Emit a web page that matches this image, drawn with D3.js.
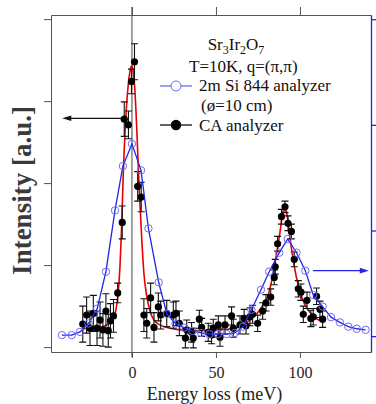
<!DOCTYPE html>
<html>
<head>
<meta charset="utf-8">
<script src="https://cdn.jsdelivr.net/npm/d3@7"></script>
<style>
  body { margin: 0; background: #fff; }
  text { font-family: "Liberation Serif", "Times New Roman", serif; }
</style>
</head>
<body>
<div id="chart"></div>
<script>
// 2m Si 844 analyzer (right axis)
const siE = [-41.7, -35.9, -31.0, -25.9, -20.7, -15.5, -10.1, -5.4, 0, 5.4, 9.8, 15.9,
  20.8, 25.9, 31.0, 36.0, 41.1, 46.1, 51.2, 56.3, 61.3, 66.1, 71.1, 76.8, 81.7, 87.7,
  92.7, 98.0, 103.2, 107.9, 113.5, 118.5, 123.8, 128.8, 133.8, 139.1];
const siI = [0.01, 0.01, 0.04, 0.12, 0.26, 0.61, 1.19, 1.61, 1.82, 1.57, 1.02, 0.51,
  0.21, 0.12, 0.08, 0.05, 0.03, 0.02, 0.02, 0.02, 0.03, 0.09, 0.25, 0.44, 0.61, 0.79,
  0.92, 0.79, 0.62, 0.39, 0.28, 0.18, 0.13, 0.09, 0.07, 0.06];

// CA analyzer (left axis)
const caE = [-29.3, -27.0, -25.0, -23.0, -20.8, -19.0, -17.3, -15.5, -14.1, -12.8, -11.0, -8.5,
  -5.8, -4.6, -2.1, -0.3, 1.5, 3.4, 5.5, 7.1, 8.8, 11.1, 13.1, 15.7, 17.1, 20.7, 24.6, 26.2,
  28.2, 31.8, 32.6, 35.5, 36.5, 40.1, 41.5, 45.4, 47.4, 48.4, 51.4, 52.4, 55.4, 59.3, 60.3,
  64.3, 66.8, 67.9, 70.2, 71.8, 74.8, 77.8, 79.8, 82.6, 84.7, 85.3, 86.7, 89.0, 91.1, 92.9,
  94.9, 96.6, 99.0, 100.6, 102.0, 104.2, 106.5, 107.9, 109.9, 111.9, 113.5];
const caI = [0.28, 0.39, 0.23, 0.41, 0.23, 0.33, 0.21, 0.44, 0.20, 0.32, 0.38, 0.66,
  1.52, 2.78, 2.71, 3.24, 3.48, 1.96, 1.83, 0.39, 0.29, 0.60, 0.24, 0.49, 0.39, 0.41, 0.39, 0.41,
  0.29, 0.11, 0.21, 0.18, 0.11, 0.34, 0.24, 0.18, 0.15, 0.23, 0.27, 0.12, 0.27, 0.38, 0.23,
  0.27, 0.35, 0.26, 0.37, 0.40, 0.29, 0.44, 0.54, 0.61, 0.85, 0.98, 1.26, 1.59, 1.71, 1.51,
  1.41, 1.07, 0.71, 0.67, 0.40, 0.57, 0.35, 0.37, 0.62, 0.46, 0.34];
const caErr = [0.22, 0.22, 0.21, 0.22, 0.21, 0.22, 0.20, 0.21, 0.20, 0.21, 0.20, 0.12,
  0.20, 0.21, 0.17, 0.15, 0.22, 0.18, 0.18, 0.20, 0.18, 0.18, 0.18, 0.17, 0.17, 0.16, 0.16, 0.15,
  0.15, 0.12, 0.12, 0.12, 0.12, 0.11, 0.11, 0.11, 0.11, 0.11, 0.11, 0.11, 0.11, 0.11, 0.11,
  0.11, 0.11, 0.10, 0.11, 0.11, 0.10, 0.10, 0.10, 0.10, 0.09, 0.09, 0.09, 0.09, 0.07, 0.09,
  0.09, 0.09, 0.10, 0.10, 0.10, 0.10, 0.10, 0.10, 0.10, 0.10, 0.10];

// fit through CA data (left axis)
const fitE = [-29.8, -25.0, -19.0, -14.3, -11.3, -9.5, -8.2, -7.1, -6.1, -5.2, -3.9, -2.4, -0.9,
  -0.2, 0.6, 1.8, 3.0, 4.2, 5.8, 7.1, 8.8, 10.7, 13.1, 16.7, 22.6, 28.6, 40.5, 52.4, 61.3, 66.1,
  70.2, 74.4, 78.0, 81.0, 83.3, 85.7, 88.1, 89.9, 91.1, 92.6, 94.3, 96.1, 97.9, 100.0, 102.4,
  105.4, 108.9, 113.5];
const fitI = [0.22, 0.23, 0.24, 0.28, 0.34, 0.46, 0.66, 1.00, 1.49, 2.10, 2.71, 3.16, 3.39,
  3.43, 3.38, 3.11, 2.59, 1.98, 1.33, 0.90, 0.62, 0.44, 0.33, 0.27, 0.23, 0.21, 0.20, 0.21, 0.23, 0.27,
  0.33, 0.41, 0.51, 0.63, 0.82, 1.09, 1.40, 1.65, 1.72, 1.57, 1.30, 1.05, 0.85, 0.68, 0.54,
  0.44, 0.36, 0.31];

const xTicks = [0, 50, 100];
const leftTicks = [0, 1, 2, 3, 4];
const rightTicks = [0, 1, 2, 3];

const width = 376, height = 404,
  margin = ({ top: 15, right: 5, bottom: 52, left: 51 });

const blue = "#2424e8", blueMark = "#6b6bf5", red = "#e60000", axisCol = "#555";

const x = d3.scaleLinear()
  .domain([-48.2, 142.3])
  .range([margin.left, width - margin.right]);

const yL = d3.scaleLinear()
  .domain([-0.06, 4.05])
  .range([height - margin.bottom, margin.top]);

const yR = d3.scaleLinear()
  .domain([-0.15, 3.04])
  .range([height - margin.bottom, margin.top]);

const svg = d3.select("#chart")
  .append("svg")
  .attr("width", width)
  .attr("height", height)
  .attr("viewBox", [0, 0, width, height]);

const x0 = margin.left, x1 = width - margin.right,
  yTop = margin.top, yBot = height - margin.bottom;

// axes
const gL = svg.append("g")
  .attr("transform", `translate(${x0},0)`)
  .call(d3.axisLeft(yL).tickValues(leftTicks).tickSize(7).tickSizeOuter(0).tickFormat(""));
gL.selectAll("path, line").attr("stroke", axisCol);

const gT = svg.append("g")
  .attr("transform", `translate(0,${yTop})`)
  .call(d3.axisTop(x).tickValues(xTicks).tickSize(8).tickSizeOuter(0).tickFormat(""));
gT.selectAll("path, line").attr("stroke", axisCol);

const gB = svg.append("g")
  .attr("transform", `translate(0,${yBot})`)
  .call(d3.axisBottom(x).tickValues(xTicks).tickSize(6).tickSizeOuter(0).tickPadding(9));
gB.selectAll("path, line").attr("stroke", axisCol);
gB.selectAll("text").attr("font-size", 16).attr("fill", "#222")
  .style("font-family", "'Liberation Serif', serif");

const gR = svg.append("g")
  .attr("transform", `translate(${x1},0)`)
  .call(d3.axisRight(yR).tickValues(rightTicks).tickSize(5).tickSizeOuter(0).tickFormat(""));
gR.selectAll("path, line").attr("stroke", blue).attr("stroke-width", 1.3);

// zero line
svg.append("line")
  .attr("x1", x(0)).attr("x2", x(0))
  .attr("y1", yTop - 8).attr("y2", yBot + 5)
  .attr("stroke", "#444");

// axis titles
svg.append("text")
  .attr("transform", `translate(30.5,${(yTop + yBot) / 2 + 7}) rotate(-90)`)
  .attr("text-anchor", "middle")
  .attr("font-size", 27)
  .attr("font-weight", "bold")
  .attr("fill", "#3a3a3a")
  .text("Intensity [a.u.]");

svg.append("text")
  .attr("x", 214.5).attr("y", 400)
  .attr("text-anchor", "middle")
  .attr("font-size", 18)
  .attr("fill", "#222")
  .text("Energy loss (meV)");

// red fit
const fit = fitE.map((e, i) => ({ e, v: fitI[i] }));
svg.append("path")
  .datum(fit)
  .attr("fill", "none")
  .attr("stroke", red)
  .attr("stroke-width", 1.6)
  .attr("d", d3.line().x(d => x(d.e)).y(d => yL(d.v)).curve(d3.curveMonotoneX));

// CA data with error bars
const ca = caE.map((e, i) => ({ e, v: caI[i], err: caErr[i] }));
const gCA = svg.append("g").attr("stroke", "#111").attr("stroke-width", 1.1);
gCA.selectAll(".eb")
  .data(ca)
  .join("path")
  .attr("fill", "none")
  .attr("d", d => {
    const cx = x(d.e), lo = yL(d.v - d.err), hi = yL(d.v + d.err);
    return `M${cx},${lo}V${hi}M${cx - 3.5},${hi}H${cx + 3.5}M${cx - 3.5},${lo}H${cx + 3.5}`;
  });
svg.append("g").selectAll("circle")
  .data(ca)
  .join("circle")
  .attr("cx", d => x(d.e))
  .attr("cy", d => yL(d.v))
  .attr("r", 3.6)
  .attr("fill", "#000");

// Si data
const si = siE.map((e, i) => ({ e, v: siI[i] }));
svg.append("path")
  .datum(si)
  .attr("fill", "none")
  .attr("stroke", blue)
  .attr("stroke-width", 1.3)
  .attr("d", d3.line().x(d => x(d.e)).y(d => yR(d.v)));
svg.append("g").selectAll("circle")
  .data(si)
  .join("circle")
  .attr("cx", d => x(d.e))
  .attr("cy", d => yR(d.v))
  .attr("r", 3.7)
  .attr("fill", "none")
  .attr("stroke", blueMark)
  .attr("stroke-width", 1);

// arrows pointing to the axis each data set belongs to
const arrows = [
  { from: -4.8, to: -41.5, v: 2.79, axis: "L", color: "#111" },
  { from: 107.7, to: 141.0, v: 0.62, axis: "R", color: blue }
];
for (const a of arrows) {
  const yy = a.axis === "L" ? yL(a.v) : yR(a.v);
  const xf = x(a.from), xt = x(a.to), dir = Math.sign(xt - xf);
  svg.append("line")
    .attr("x1", xf).attr("x2", xt - dir * 6)
    .attr("y1", yy).attr("y2", yy)
    .attr("stroke", a.color).attr("stroke-width", 1.2);
  svg.append("path")
    .attr("d", `M${xt},${yy}L${xt - dir * 9},${yy - 2.8}L${xt - dir * 9},${yy + 2.8}Z`)
    .attr("fill", a.color);
}

// legend / annotation
const title = svg.append("text")
  .attr("x", 236).attr("y", 50)
  .attr("text-anchor", "middle")
  .attr("font-size", 17)
  .attr("fill", "#111");
[["Sr", 0], ["3", 1], ["Ir", 0], ["2", 1], ["O", 0], ["7", 1]].forEach(([t, sub], i, arr) => {
  const prevSub = i > 0 && arr[i - 1][1];
  title.append("tspan")
    .attr("font-size", sub ? 12 : 17)
    .attr("dy", sub ? 4 : (prevSub ? -4 : 0))
    .text(t);
});

const lines = [
  { t: "T=10K, q=(\u03c0,\u03c0)", x: 189, y: 72 },
  { t: "2m Si 844 analyzer", x: 199, y: 91 },
  { t: "(\u00f8=10 cm)", x: 201, y: 111 },
  { t: "CA analyzer", x: 199, y: 131 }
];
svg.append("g").selectAll("text")
  .data(lines)
  .join("text")
  .attr("x", d => d.x).attr("y", d => d.y)
  .attr("font-size", 17)
  .attr("fill", "#111")
  .text(d => d.t);

svg.append("line").attr("x1", 160).attr("x2", 192).attr("y1", 86).attr("y2", 86)
  .attr("stroke", blueMark).attr("stroke-width", 1.3);
svg.append("circle").attr("cx", 176).attr("cy", 86).attr("r", 5)
  .attr("fill", "#fff").attr("stroke", blueMark).attr("stroke-width", 1);
svg.append("line").attr("x1", 160).attr("x2", 192).attr("y1", 125).attr("y2", 125)
  .attr("stroke", "#111").attr("stroke-width", 1.3);
svg.append("circle").attr("cx", 176).attr("cy", 125).attr("r", 5.2).attr("fill", "#000");
</script>
</body>
</html>
